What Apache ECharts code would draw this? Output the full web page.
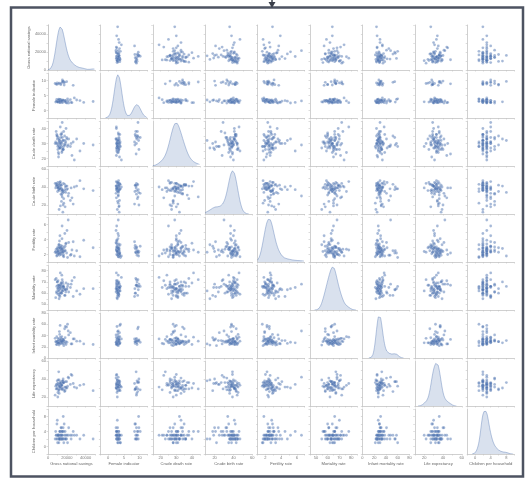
<!DOCTYPE html>
<html><head><meta charset="utf-8">
<script src="https://cdn.jsdelivr.net/npm/echarts@6/dist/echarts.min.js"></script>
<style>html,body{margin:0;padding:0;background:#fff}#c{width:529px;height:481px}</style>
</head><body><div id="c"></div>
<script>
const names = ["Gross national savings","Female indicator","Crude death rate","Crude birth rate","Fertility rate","Mortality rate","Infant mortality rate","Life expectancy","Children per household"];

const v1 = [12000,15500,9800,18200,11000,13400,22000,8700,16800,14100,10500,19800,12700,25500,9300,17200,13900,11800,30500,15000,7600,14600,20800,12200,16100,10900,48000,13100,18900,11400,23800,9900,14900,17700,12500,15800,28000,10200,13600,21500,8200,16400,11900,14300,19200,12900,34000,15300,10700,17900,13200,9500,24600,14700,11600,16700,12100,20200,15700,8900,13800,18500,11200,26800,14400,10400,16200,12400,38000,15100];
const v2 = [3.1,2.7,9.2,3.4,2.9,3.6,2.5,8.8,3.2,3.0,2.8,9.6,3.3,2.6,3.7,8.5,3.1,2.9,3.5,2.7,9.0,3.2,3.9,2.8,9.8,3.4,3.0,2.6,3.3,8.9,3.6,2.9,3.1,9.4,2.7,3.5,4.2,3.0,8.6,3.2,2.8,3.4,9.1,3.0,2.6,3.7,3.3,10.2,2.9,3.1,3.5,8.7,2.7,3.2,3.8,9.3,3.0,2.5,3.4,3.1,9.0,2.8,3.6,8.4,3.3,2.9,9.7,3.1,2.7,9.5];
const v3 = [32,27,35,30,24,29,33,38,28,31,26,34,30,22,36,29,31,27,33,25,30,37,28,32,26,34,29,41,31,23,28,33,30,35,27,32,19,30,36,29,31,26,33,28,40,30,25,34,29,32,27,35,30,24,31,38,28,33,26,30,34,29,21,31,36,28,32,27,30,44];
const v4 = [40,36,42,18,39,44,33,41,22,38,45,37,40,28,43,35,39,15,41,37,44,31,38,42,20,40,36,46,34,39,25,41,37,43,38,12,40,35,42,30,39,44,36,24,41,38,47,33,40,37,19,42,39,35,43,27,38,41,36,44,32,40,37,21,42,39,34,45,38,29];
const v5 = [2.3,2.8,1.9,3.1,2.5,2.1,3.6,2.7,1.7,2.4,3.0,2.2,4.5,2.6,1.8,2.9,2.0,3.3,2.5,5.8,2.3,2.7,1.6,3.8,2.4,2.1,2.9,2.6,3.4,2.2,1.9,2.8,4.1,2.5,3.0,2.3,1.8,2.7,3.2,6.6,2.4,2.0,2.9,2.6,3.5,2.2,1.7,3.1,2.5,4.8,2.8,2.3,2.0,2.7,3.3,2.4,1.9,5.2,2.6,2.2,3.0,2.5,2.1,3.7,2.8,2.4,1.8,2.9,3.9,2.3];
const v6 = [66,62,70,58,64,68,61,73,65,60,67,63,57,71,66,64,69,55,62,65,72,60,66,63,68,59,64,78,61,67,65,70,63,58,66,62,74,64,60,68,56,65,67,61,69,64,59,66,71,63,65,60,68,76,62,66,58,64,70,61,67,63,65,57,69,62,66,60,64,72];
const v7 = [28,32,24,36,30,26,41,29,22,33,27,55,31,25,38,29,34,23,30,27,35,28,60,26,32,30,24,37,29,33,45,27,31,52,28,25,34,30,26,48,29,33,27,31,24,58,30,28,35,26,32,29,25,38,27,31,47,28,33,24,30,56,26,34,29,27,31,42,25,30];
const v8 = [34,30,38,27,35,32,41,29,36,33,25,37,31,44,33,28,35,39,30,34,22,36,32,29,40,33,27,35,31,48,34,30,37,26,33,38,31,35,29,42,32,36,24,34,30,37,33,28,39,31,35,29,45,33,27,36,32,30,38,34,31,37,28,35,33,20,36,31,34,29];
const v9 = [2,3,2,4,3,2,5,3,1,2,3,2,4,3,2,6,3,2,3,4,2,3,1,2,5,3,2,4,3,2,3,7,2,3,4,2,3,1,2,3,4,2,3,5,2,3,2,4,3,2,3,6,2,3,1,4,2,3,2,3,5,2,3,4,2,3,8,2,3,4];

const axisMin = [0,-2.5,15,10,1,45,0,10,-2];
const axisMax = [50000,12.5,45,60,7,85,80,60,10];
const axisStep = [10000,2.5,5,10,1,5,20,10,2];
const labelStep = [20000,5,10,20,2,10,20,20,4];

const vars = [v1,v2,v3,v4,v5,v6,v7,v8,v9];
const N = 9;
const COL = '#4c72b0';
const AXC = '#c4c4c4';
const LBL = '#7a7a7a';

function kde(arr, lo, hi){
  const n = arr.length;
  const m = arr.reduce((a,b)=>a+b,0)/n;
  const sd = Math.sqrt(arr.reduce((a,b)=>a+(b-m)*(b-m),0)/(n-1));
  const bw = sd*Math.pow(n,-0.2);
  const a = Math.max(lo, Math.min(...arr)-3*bw), b = Math.min(hi, Math.max(...arr)+3*bw);
  const out=[]; const steps=160;
  for(let i=0;i<=steps;i++){
    const x=a+(b-a)*i/steps; let s=0;
    for(const v of arr){const z=(x-v)/bw; s+=Math.exp(-0.5*z*z);}
    out.push([x, s/(n*bw*Math.sqrt(2*Math.PI))]);
  }
  return out;
}
function fmtFor(k){
  return v => { const q = v/labelStep[k]; return Math.abs(q-Math.round(q))<1e-6 ? String(v) : ''; };
}

const grid=[], xAxis=[], yAxis=[], series=[];
for(let r=0;r<N;r++){
  for(let c=0;c<N;c++){
    const g = r*N+c;
    grid.push({left:48+c*52.4, top:25+r*48, width:47, height:45});
    xAxis.push({
      gridIndex:g, type:'value', min:axisMin[c], max:axisMax[c], interval:axisStep[c],
      axisLine:{show:true, onZero:false, lineStyle:{color:AXC, width:0.8}},
      axisTick:{show:true, length:1.5, lineStyle:{color:AXC, width:0.6}},
      splitLine:{show:false},
      axisLabel:{show:r===N-1, fontSize:4, color:LBL, margin:2, formatter:fmtFor(c), hideOverlap:false},
      name: r===N-1 ? names[c] : '', nameLocation:'middle', nameGap:8,
      nameTextStyle:{fontSize:4.2, color:'#666'}
    });
    const yi = yAxis.length;
    if(r===c){
      const d = kde(vars[c], axisMin[c], axisMax[c]);
      const dmax = Math.max(...d.map(p=>p[1]));
      yAxis.push({
        gridIndex:g, type:'value', min:0, max:dmax*1.04,
        axisLine:{show:true, onZero:false, lineStyle:{color:AXC, width:0.8}},
        axisTick:{show:false}, axisLabel:{show:false}, splitLine:{show:false}
      });
      series.push({
        type:'line', xAxisIndex:g, yAxisIndex:yi, data:d, showSymbol:false, smooth:false,
        lineStyle:{color:'rgba(76,114,176,0.55)', width:0.7},
        areaStyle:{color:'rgba(76,114,176,0.3)'}, silent:true
      });
      if(c===0){
        yAxis.push({
          gridIndex:g, type:'value', min:axisMin[0], max:axisMax[0], interval:axisStep[0], position:'left',
          axisLine:{show:true, onZero:false, lineStyle:{color:AXC, width:0.8}},
          axisTick:{show:true, length:1.5, lineStyle:{color:AXC, width:0.6}},
          axisLabel:{show:true, fontSize:4, color:LBL, margin:2, formatter:fmtFor(0)},
          splitLine:{show:false},
          name:names[0], nameLocation:'middle', nameGap:16, nameRotate:90,
          nameTextStyle:{fontSize:4.2, color:'#666'}
        });
      }
    } else {
      yAxis.push({
        gridIndex:g, type:'value', min:axisMin[r], max:axisMax[r], interval:axisStep[r],
        axisLine:{show:true, onZero:false, lineStyle:{color:AXC, width:0.8}},
        axisTick:{show:true, length:1.5, lineStyle:{color:AXC, width:0.6}},
        axisLabel:{show:c===0, fontSize:4, color:LBL, margin:2, formatter:fmtFor(r)},
        splitLine:{show:false},
        name: c===0 ? names[r] : '', nameLocation:'middle', nameGap:12, nameRotate:90,
        nameTextStyle:{fontSize:4.2, color:'#666'}
      });
      const data = vars[c].map((x,i)=>[x, vars[r][i]]);
      series.push({
        type:'scatter', xAxisIndex:g, yAxisIndex:yi, data:data, symbolSize:2.8,
        itemStyle:{color:COL, opacity:0.5, borderColor:'rgba(255,255,255,0.6)', borderWidth:0.3},
        silent:true
      });
    }
  }
}

const chart = echarts.init(document.getElementById('c'), null, {renderer:'canvas'});
chart.setOption({
  animation:false,
  backgroundColor:'#ffffff',
  grid, xAxis, yAxis, series,
  graphic:[
    {type:'rect', shape:{x:11, y:7.5, width:512, height:469}, style:{fill:'none', stroke:'#4d5361', lineWidth:2.5}, z:100},
    {type:'line', shape:{x1:272, y1:0, x2:272, y2:3}, style:{stroke:'#3a3f4a', lineWidth:1.5}, z:100},
    {type:'polygon', shape:{points:[[268.5,2],[275.5,2],[272,8]]}, style:{fill:'#3a3f4a'}, z:100}
  ]
});
</script></body></html>
